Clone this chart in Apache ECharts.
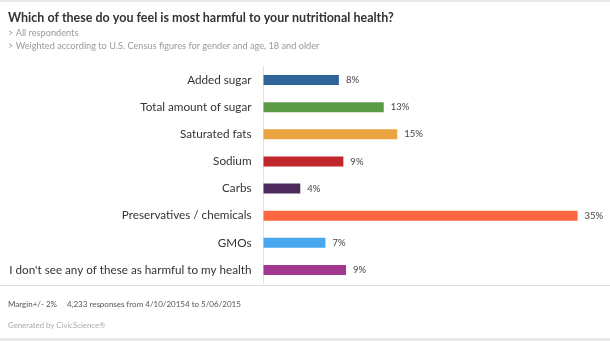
<!DOCTYPE html>
<html><head><meta charset="utf-8">
<script src="https://cdn.jsdelivr.net/npm/echarts@6/dist/echarts.min.js"></script>
<style>html,body{margin:0;padding:0;background:#fff}#c{width:610px;height:341px}</style>
</head><body><div id="c"></div>
<script>
const titleText = 'Which of these do you feel is most harmful to your nutritional health?';
const subtitleLines = ['> All respondents', '> Weighted according to U.S. Census figures for gender and age, 18 and older'];
const categories = ['Added sugar','Total amount of sugar','Saturated fats','Sodium','Carbs','Preservatives / chemicals','GMOs',"I don't see any of these as harmful to my health"];
const values = [8.4, 13.4, 14.9, 8.9, 4.1, 35.0, 6.9, 9.2];
const colors = ['#2f6497','#5b9a46','#e9a33f','#c1272d','#4c2a5c','#ff6640','#49a7ef','#a2378f'];
const footerMargin = 'Margin+/- 2%';
const footerResponses = '4,233 responses from 4/10/20154 to 5/06/2015';
const footerGenerated = 'Generated by CivicScience®';

const chart = echarts.init(document.getElementById('c'), null, {renderer:'canvas'});
const F = 'Lato, "Open Sans", sans-serif';
chart.setOption({
  animation:false,
  backgroundColor:'#fff',
  grid:{left:263.5, top:66.5, width:341, height:217, containLabel:false},
  xAxis:{type:'value', min:0, max:38, show:false},
  yAxis:{type:'category', inverse:true, data:categories,
    axisLine:{show:true, lineStyle:{color:'#e3e3e3', width:1}},
    axisTick:{show:false},
    axisLabel:{color:'#333', fontFamily:F, fontSize:11.7, margin:12}},
  series:[{type:'bar', barWidth:10,
    data: values.map((v,i)=>({value:v, itemStyle:{color:colors[i]}})),
    label:{show:true, position:'right', distance:7, color:'#444', fontFamily:F, fontSize:9.5,
      formatter:p=>Math.round(p.value)+'%'}}],
  graphic:[
    {type:'rect', left:0, top:0, shape:{width:610, height:2}, style:{fill:'#e8e8e8'}},
    {type:'text', left:8, top:11, style:{text:titleText, fill:'#333', font:'bold 12.5px '+F}},
    {type:'text', left:8, top:29, style:{text:subtitleLines[0], fill:'#9a9a9a', font:'9.2px '+F}},
    {type:'text', left:8, top:42, style:{text:subtitleLines[1], fill:'#9a9a9a', font:'9.2px '+F}},
    {type:'rect', left:0, top:285, shape:{width:610, height:1}, style:{fill:'#dedede'}},
    {type:'text', left:8, top:300, style:{text:footerMargin, fill:'#555', font:'8px '+F}},
    {type:'text', left:67, top:300, style:{text:footerResponses, fill:'#555', font:'8px '+F}},
    {type:'text', left:8, top:321, style:{text:footerGenerated, fill:'#aaa', font:'7.8px '+F}},
    {type:'rect', left:0, top:338, shape:{width:610, height:3}, style:{fill:'#e8e8e8'}}
  ]
});
</script></body></html>
